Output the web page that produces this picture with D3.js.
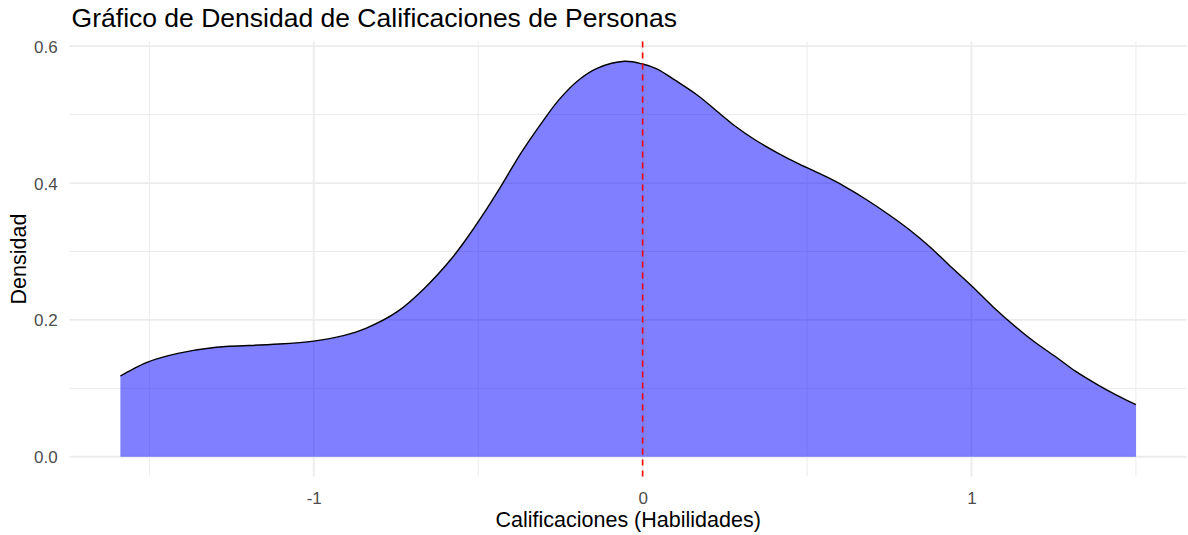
<!DOCTYPE html>
<html>
<head>
<meta charset="utf-8">
<script src="https://cdn.jsdelivr.net/npm/d3@7"></script>
<style>
  html, body { margin: 0; padding: 0; background: #fff; }
  svg { display: block; }
  text { font-family: "Liberation Sans", Arial, sans-serif; }
</style>
</head>
<body>
<svg id="chart" width="1188" height="535"></svg>
<script>
// ---- data ----
const calificaciones = [-1.588, -1.554, -1.507, -1.413, -1.296, -1.132, -1.0, -0.910, -0.840, -0.746,
  -0.664, -0.582, -0.535, -0.488, -0.430, -0.371, -0.313, -0.254, -0.196, -0.137, -0.055, 0.0,
  0.043, 0.1, 0.168, 0.236, 0.282, 0.339, 0.407, 0.475, 0.555, 0.611, 0.680, 0.748, 0.816, 0.873,
  0.930, 1.0, 1.066, 1.134, 1.191, 1.259, 1.316, 1.384, 1.441, 1.5];
const densidad = [0.118, 0.127, 0.138, 0.151, 0.160, 0.164, 0.169, 0.177, 0.188, 0.212,
  0.246, 0.289, 0.319, 0.352, 0.396, 0.443, 0.484, 0.522, 0.550, 0.568, 0.578, 0.574,
  0.567, 0.550, 0.528, 0.501, 0.483, 0.464, 0.445, 0.428, 0.410, 0.396, 0.376, 0.354, 0.330, 0.307,
  0.281, 0.250, 0.219, 0.190, 0.168, 0.145, 0.125, 0.105, 0.090, 0.076];
const mediaLinea = [0.0];
const xMajorTicks = [-1, 0, 1];
const xMinorTicks = [-1.5, -0.5, 0.5, 1.5];
const yMajorTicks = [0.0, 0.2, 0.4, 0.6];
const yMinorTicks = [0.1, 0.3, 0.5];
const titulo = "Gráfico de Densidad de Calificaciones de Personas";
const tituloX = "Calificaciones (Habilidades)";
const tituloY = "Densidad";

const data = calificaciones.map((c, i) => ({ x: c, y: densidad[i] }));

// ---- layout ----
const svg = d3.select("#chart");
const panel = { left: 69.6, right: 1186.7, top: 41.5, bottom: 476.5 };

const xExt = d3.extent(calificaciones);
const xPad = (xExt[1] - xExt[0]) * 0.05;
const yMax = d3.max(densidad);
const yPad = yMax * 0.05;

const x = d3.scaleLinear().domain([xExt[0] - xPad, xExt[1] + xPad]).range([panel.left, panel.right]);
const y = d3.scaleLinear().domain([-yPad, yMax + yPad]).range([panel.bottom, panel.top]);

// ---- grid ----
const grid = svg.append("g");
grid.selectAll(".ymin").data(yMinorTicks).join("line")
  .attr("x1", panel.left).attr("x2", panel.right)
  .attr("y1", d => y(d)).attr("y2", d => y(d))
  .attr("stroke", "#EBEBEB").attr("stroke-width", 1);
grid.selectAll(".xmin").data(xMinorTicks).join("line")
  .attr("y1", panel.top).attr("y2", panel.bottom)
  .attr("x1", d => x(d)).attr("x2", d => x(d))
  .attr("stroke", "#EBEBEB").attr("stroke-width", 1);
grid.selectAll(".ymaj").data(yMajorTicks).join("line")
  .attr("x1", panel.left).attr("x2", panel.right)
  .attr("y1", d => y(d)).attr("y2", d => y(d))
  .attr("stroke", "#EBEBEB").attr("stroke-width", 1.8);
grid.selectAll(".xmaj").data(xMajorTicks).join("line")
  .attr("y1", panel.top).attr("y2", panel.bottom)
  .attr("x1", d => x(d)).attr("x2", d => x(d))
  .attr("stroke", "#EBEBEB").attr("stroke-width", 1.8);

// ---- density ----
const curve = d3.curveCatmullRom.alpha(0.5);
const area = d3.area().x(d => x(d.x)).y0(y(0)).y1(d => y(d.y)).curve(curve);
const line = d3.line().x(d => x(d.x)).y(d => y(d.y)).curve(curve);

svg.append("path").datum(data).attr("d", area)
  .attr("fill", "blue").attr("fill-opacity", 0.5);
svg.append("path").datum(data).attr("d", line)
  .attr("fill", "none").attr("stroke", "#000").attr("stroke-width", 1.4);

// ---- mean line ----
svg.selectAll(".vline").data(mediaLinea).join("line")
  .attr("x1", d => x(d)).attr("x2", d => x(d))
  .attr("y1", panel.top).attr("y2", panel.bottom)
  .attr("stroke", "red").attr("stroke-width", 1.6)
  .attr("stroke-dasharray", "6,5");

// ---- axes labels ----
const xAxis = d3.axisBottom(x).tickValues(xMajorTicks).tickFormat(d => String(d)).tickSize(0).tickPadding(0);
const gx = svg.append("g").attr("transform", `translate(0,${panel.bottom})`).call(xAxis);
gx.select(".domain").remove();
gx.selectAll("text").attr("y", 27.5).attr("dy", 0)
  .attr("fill", "#4D4D4D").style("font-size", "17px")
  .style("font-family", '"Liberation Sans", Arial, sans-serif');

const yAxis = d3.axisLeft(y).tickValues(yMajorTicks).tickFormat(d3.format(".1f")).tickSize(0).tickPadding(0);
const gy = svg.append("g").attr("transform", `translate(${panel.left},0)`).call(yAxis);
gy.select(".domain").remove();
gy.selectAll("text").attr("x", -12).attr("dy", "0.35em")
  .attr("fill", "#4D4D4D").style("font-size", "17px")
  .style("font-family", '"Liberation Sans", Arial, sans-serif');

// ---- titles ----
svg.append("text").attr("x", panel.left + 2).attr("y", 27)
  .attr("fill", "#000").style("font-size", "26.5px").text(titulo);

svg.append("text").attr("x", (panel.left + panel.right) / 2).attr("y", 527)
  .attr("text-anchor", "middle").attr("fill", "#000").style("font-size", "21.5px").text(tituloX);

svg.append("text")
  .attr("transform", `translate(26,${(panel.top + panel.bottom) / 2}) rotate(-90)`)
  .attr("text-anchor", "middle").attr("fill", "#000").style("font-size", "21.5px").text(tituloY);
</script>
</body>
</html>
